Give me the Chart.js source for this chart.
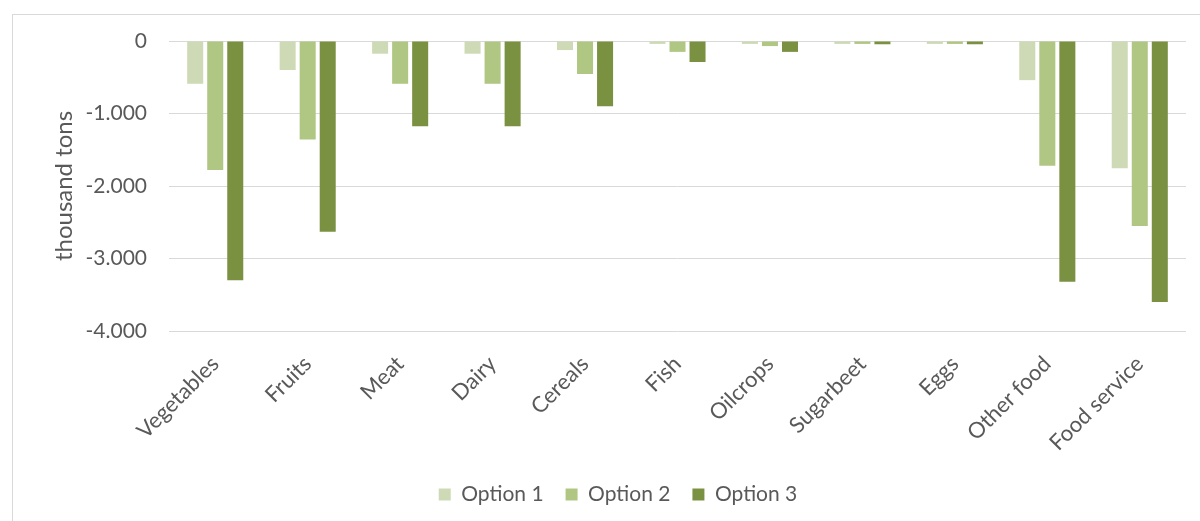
<!DOCTYPE html>
<html>
<head>
<meta charset="utf-8">
<script src="https://cdn.jsdelivr.net/npm/chart.js@4.4.1/dist/chart.umd.min.js"></script>
<style>
  html, body { margin: 0; padding: 0; background: #fff; }
  body { width: 1200px; height: 521px; position: relative; overflow: hidden; }
  #frame {
    position: absolute; left: 12px; top: 14px; width: 1300px; height: 600px;
    border: 1px solid #d9d9d9; box-sizing: border-box;
  }
  #wrap { position: absolute; left: 0; top: 0; width: 1200px; height: 521px; }
</style>
</head>
<body>
<div id="frame"></div>
<div id="wrap"><canvas id="chart"></canvas></div>
<script>
// ── Data ──────────────────────────────────────────────────────────────────────
const categories = ['Vegetables', 'Fruits', 'Meat', 'Dairy', 'Cereals', 'Fish',
                    'Oilcrops', 'Sugarbeet', 'Eggs', 'Other food', 'Food service'];
const option1 = [-590, -400, -175, -175, -125, -40, -40, -40, -40, -540, -1755];
const option2 = [-1780, -1360, -590, -590, -455, -150, -70, -40, -40, -1720, -2550];
const option3 = [-3300, -2630, -1175, -1175, -900, -290, -150, -45, -45, -3320, -3600];
const yTicks  = [0, -1000, -2000, -3000, -4000];

const FONT = 'Lato';
const TEXT = '#595959';

function fmt(v) {
  const s = Math.abs(v).toString().replace(/\B(?=(\d{3})+(?!\d))/g, '.');
  return (v < 0 ? '-' : '') + s;
}

const series = [
  { label: 'Option 1', data: option1, color: '#cddab5' },
  { label: 'Option 2', data: option2, color: '#b0c683' },
  { label: 'Option 3', data: option3, color: '#7a9141' },
];

new Chart(document.getElementById('chart'), {
  type: 'bar',
  data: {
    labels: categories,
    datasets: series.map(s => ({
      label: s.label,
      data: s.data,
      backgroundColor: s.color,
      borderWidth: 0,
      barPercentage: 0.8,
      categoryPercentage: 0.65,
    })),
  },
  options: {
    responsive: true,
    maintainAspectRatio: false,
    animation: false,
    layout: { padding: { top: 41, left: 50, right: 14, bottom: 6 } },
    plugins: {
      legend: {
        position: 'bottom',
        labels: {
          color: TEXT,
          font: { family: FONT, size: 21 },
          boxWidth: 12, boxHeight: 12,
          padding: 22,
        },
      },
      tooltip: { enabled: false },
    },
    scales: {
      x: {
        grid: { display: false },
        border: { display: false },
        ticks: {
          color: TEXT,
          font: { family: FONT, size: 22 },
          minRotation: 45, maxRotation: 45,
          padding: 12,
        },
        afterFit: s => { s.height = 131; },
      },
      y: {
        min: -4000, max: 0,
        afterBuildTicks: s => { s.ticks = yTicks.map(v => ({ value: v })); },
        grid: { color: '#d9d9d9', lineWidth: 1, drawTicks: false },
        border: { display: false },
        title: {
          display: true, text: 'thousand tons', color: TEXT,
          font: { family: FONT, size: 24 }, padding: 0,
        },
        ticks: {
          color: TEXT,
          font: { family: FONT, size: 21 },
          padding: 22,
          callback: v => fmt(v),
        },
        afterFit: s => { s.width = 119; },
      },
    },
  },
});
</script>
</body>
</html>
